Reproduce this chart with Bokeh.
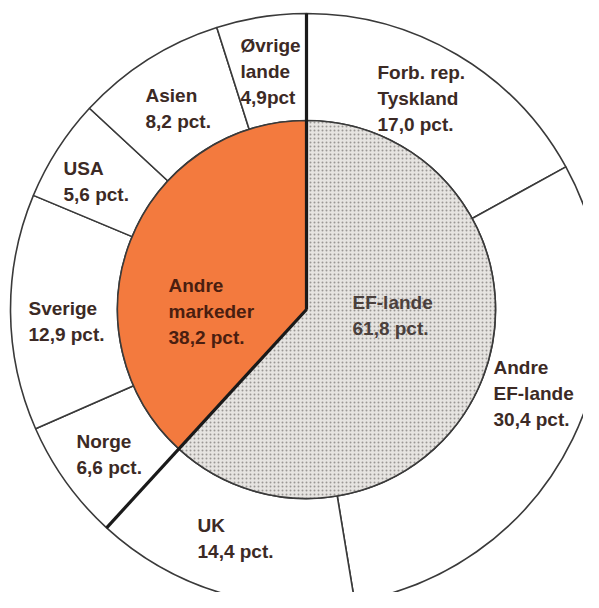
import math
from bokeh.plotting import figure
from bokeh.models import Range1d, ColumnDataSource
from bokeh.core.properties import value
from bokeh.embed import file_html
from bokeh.resources import INLINE

# ---- data ----
inner_names = ["EF-lande", "Andre\nmarkeder"]
inner_values = [61.8, 38.2]

outer_names = ["Forb. rep.\nTyskland", "Andre\nEF-lande", "UK", "Norge",
               "Sverige", "USA", "Asien", "Øvrige\nlande"]
outer_values = [17.0, 30.4, 14.4, 6.6, 12.9, 5.6, 8.2, 4.9]

# ---- layout / style (not data) ----
R_OUT = 296
R_IN = 189
FONT = value("Liberation Sans")
TEXT_COLOR = "#3c2a25"
# label anchors (left, top of first line), in pixel offsets from the centre
outer_label_pos = [(71, 248), (187, -47), (-109, -205), (-230, -121),
                   (-278, 12), (-243, 152), (-161, 225), (-66, 275)]
inner_label_pos = [(46, 18), (-138, 35)]


def fmt(v, spaced=True):
    s = f"{v:.1f}".replace(".", ",")
    return s + (" pct." if spaced else "pct")


def wedges(vals):
    starts, ends = [], []
    cum = 0.0
    for v in vals:
        starts.append(math.radians(90 - (cum + v) * 3.6))
        ends.append(math.radians(90 - cum * 3.6))
        cum += v
    return starts, ends


p = figure(width=583, height=592, output_backend="svg", toolbar_location=None,
           x_range=Range1d(-306, 277), y_range=Range1d(-283, 309),
           min_border=0, background_fill_color="white", border_fill_color="white")
p.axis.visible = False
p.grid.visible = False
p.outline_line_color = None

# outer ring
os_, oe_ = wedges(outer_values)
p.annular_wedge(x=0, y=0, inner_radius=R_IN, outer_radius=R_OUT,
                start_angle=os_, end_angle=oe_, fill_color="white",
                line_color="#3a3a3a", line_width=1.6)

# inner pie
is_, ie_ = wedges(inner_values)
p.wedge(x=0, y=0, radius=R_IN, start_angle=[is_[0]], end_angle=[ie_[0]],
        fill_color="#e6e4e1", hatch_pattern="dot", hatch_color="#9a9794",
        hatch_scale=4, hatch_weight=1.0, line_color="#3a3a3a", line_width=1.6)
p.wedge(x=0, y=0, radius=R_IN, start_angle=[is_[1]], end_angle=[ie_[1]],
        fill_color="#f37a3e", line_color="#3a3a3a", line_width=1.6)

# thick dividing lines between EF and other markets
bounds = [ie_[0], is_[0]]
p.segment(x0=[0] * 2, y0=[0] * 2,
          x1=[R_OUT * math.cos(a) for a in bounds],
          y1=[R_OUT * math.sin(a) for a in bounds],
          line_color="#1a1a1a", line_width=3.2)

# labels
texts, xs, ys, cols = [], [], [], []
for name, v, (x, y) in zip(outer_names, outer_values, outer_label_pos):
    spaced = not name.startswith("Øvrige")
    texts.append(name + "\n" + fmt(v, spaced))
    xs.append(x)
    ys.append(y)
    cols.append(TEXT_COLOR)
inner_cols = ["#4a403c", "#4a1e10"]
for name, v, (x, y), c in zip(inner_names, inner_values, inner_label_pos, inner_cols):
    texts.append(name + "\n" + fmt(v))
    xs.append(x)
    ys.append(y)
    cols.append(c)

src = ColumnDataSource(dict(x=xs, y=ys, text=texts, color=cols))
p.text(x="x", y="y", text="text", source=src, text_color="color",
       text_font=FONT, text_font_size="19px", text_font_style="bold",
       text_align="left", text_baseline="top", text_line_height=1.24)

open("out.html", "w").write(file_html(p, INLINE))
